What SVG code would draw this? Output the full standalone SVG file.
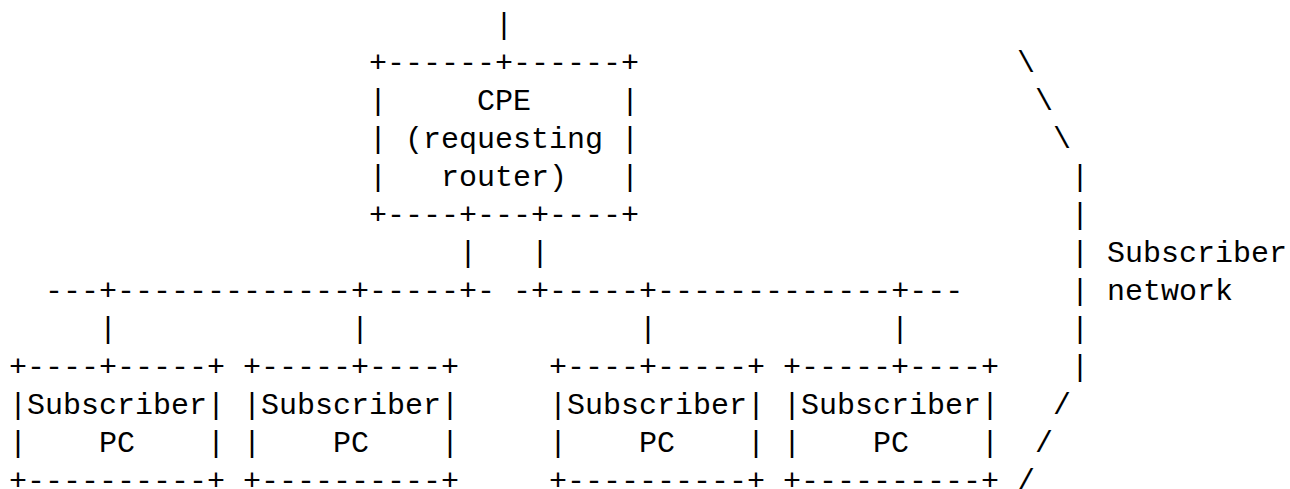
<svg xmlns="http://www.w3.org/2000/svg" width="1290" height="489" viewBox="0 0 1290 489">
<style>
text { font-family: "Liberation Mono", "DejaVu Sans Mono", monospace; font-size: 30px; fill: #000; white-space: pre; }
</style>
<rect width="1290" height="489" fill="#fff"/>
<g id="connectors">
<text x="495" y="34">|</text>
<text x="459" y="262" xml:space="preserve">|   |</text>
<text x="45" y="300" xml:space="preserve">---+-------------+-----+- -+-----+-------------+---</text>
<text x="99" y="338">|</text>
<text x="351" y="338">|</text>
<text x="639" y="338">|</text>
<text x="891" y="338">|</text>
</g>
<g id="cpe">
<text x="369" y="72">+------+------+</text>
<text x="369" y="110" xml:space="preserve">|     CPE     |</text>
<text x="369" y="148" xml:space="preserve">| (requesting |</text>
<text x="369" y="186" xml:space="preserve">|   router)   |</text>
<text x="369" y="224">+----+---+----+</text>
</g>
<g id="pc1">
<text x="9" y="376">+----+-----+</text>
<text x="9" y="414">|Subscriber|</text>
<text x="9" y="452" xml:space="preserve">|    PC    |</text>
<text x="9" y="490">+----------+</text>
</g>
<g id="pc2">
<text x="243" y="376">+-----+----+</text>
<text x="243" y="414">|Subscriber|</text>
<text x="243" y="452" xml:space="preserve">|    PC    |</text>
<text x="243" y="490">+----------+</text>
</g>
<g id="pc3">
<text x="549" y="376">+----+-----+</text>
<text x="549" y="414">|Subscriber|</text>
<text x="549" y="452" xml:space="preserve">|    PC    |</text>
<text x="549" y="490">+----------+</text>
</g>
<g id="pc4">
<text x="783" y="376">+-----+----+</text>
<text x="783" y="414">|Subscriber|</text>
<text x="783" y="452" xml:space="preserve">|    PC    |</text>
<text x="783" y="490">+----------+</text>
</g>
<g id="subscriber-network">
<text x="1017" y="72">\</text>
<text x="1035" y="110">\</text>
<text x="1053" y="148">\</text>
<text x="1071" y="186">|</text>
<text x="1071" y="224">|</text>
<text x="1071" y="262">|</text>
<text x="1071" y="300">|</text>
<text x="1071" y="338">|</text>
<text x="1071" y="376">|</text>
<text x="1107" y="262">Subscriber</text>
<text x="1107" y="300">network</text>
<text x="1053" y="414">/</text>
<text x="1035" y="452">/</text>
<text x="1017" y="490">/</text>
</g>
</svg>
